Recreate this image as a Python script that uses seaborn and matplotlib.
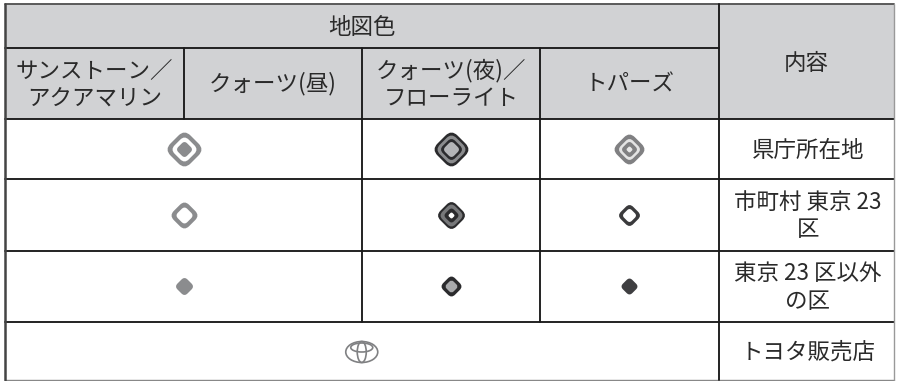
import numpy as np
import pandas as pd
import matplotlib
matplotlib.use("Agg")
import matplotlib.pyplot as plt
from matplotlib.path import Path
from matplotlib.patches import Ellipse, Rectangle
import seaborn as sns

# table text
top_header = "地図色"
right_header = "内容"
sub_headers = ["サンストーン／\nアクアマリン", "クォーツ(昼)", "クォーツ(夜)／\nフローライト", "トパーズ"]
row_labels = ["県庁所在地", "市町村 東京 23\n区", "東京 23 区以外\nの区", "トヨタ販売店"]

# table grid, pixels
col_edges = [5, 184, 362, 540, 718.5, 894]
row_edges = [4, 48, 119, 179, 250.5, 322, 380]

HEADER_BG = "#d1d2d4"
LINE = "#1a1a1a"
TEXT = "#2a2a2a"

# icon layers per row: (width px, colour), outermost first
sunstone_icons = [
    [(34, "#8b8c8e"), (24, "white"), (15, "#8b8c8e")],
    [(26, "#8b8c8e"), (16, "white")],
    [(17, "#8b8c8e")],
]
night_icons = [
    [(34, "#2b2b2d"), (28, "#8b8c8e"), (21, "#2b2b2d"), (15, "#b4b5b7")],
    [(27, "#2b2b2d"), (22, "#77787a"), (14, "#2b2b2d"), (6, "white")],
    [(20, "#2b2b2d"), (12, "#a9aaac")],
]
topaz_icons = [
    [(30, "#808082"), (21, "#e4e4e4"), (15, "#808082"), (6, "#e8e8e8")],
    [(21, "#3a3a3c"), (13, "white")],
    [(16, "#3f3f41")],
]

CORNER = 0.3


def rounded_diamond(r=1.0, c=CORNER):
    # diamond with softened corners
    pts = [(r, 0), (0, r), (-r, 0), (0, -r)]
    verts, codes = [], []
    for i, p in enumerate(pts):
        p = np.array(p)
        prev = np.array(pts[i - 1])
        nxt = np.array(pts[(i + 1) % 4])
        a = p + (prev - p) * c
        b = p + (nxt - p) * c
        verts += [a, p, b]
        codes += [Path.LINETO if i else Path.MOVETO, Path.CURVE3, Path.CURVE3]
    verts.append(verts[0])
    codes.append(Path.CLOSEPOLY)
    return Path(verts, codes)


sns.set_theme(style="white")
plt.rcParams["font.family"] = ["Noto Sans CJK JP", "DejaVu Sans"]

fig = plt.figure(figsize=(8.97, 3.81), dpi=100)
ax = fig.add_axes([0, 0, 1, 1])

# header shading
ax.add_patch(Rectangle((col_edges[0], row_edges[0]), col_edges[-1] - col_edges[0],
                       row_edges[2] - row_edges[0], color=HEADER_BG, lw=0))

# grid lines
lw = 1.35
ax.plot([col_edges[0], col_edges[-1]], [row_edges[0]] * 2, color="#555555", lw=lw)
ax.plot([col_edges[0], col_edges[4]], [row_edges[1]] * 2, color=LINE, lw=lw)
for y in row_edges[2:6]:
    ax.plot([col_edges[0], col_edges[-1]], [y, y], color=LINE, lw=lw)
ax.plot([col_edges[0], col_edges[-1]], [row_edges[6]] * 2, color="#888888", lw=1.0)
ax.plot([col_edges[1]] * 2, [row_edges[1], row_edges[2]], color=LINE, lw=lw)
ax.plot([col_edges[2]] * 2, [row_edges[1], row_edges[5]], color=LINE, lw=lw)
ax.plot([col_edges[3]] * 2, [row_edges[1], row_edges[5]], color=LINE, lw=lw)
ax.plot([col_edges[4]] * 2, [row_edges[0], row_edges[6]], color=LINE, lw=lw)
ax.plot([col_edges[0]] * 2, [row_edges[0], row_edges[6]], color="#444444", lw=1.8)
ax.plot([col_edges[5]] * 2, [row_edges[0], row_edges[6]], color="#999999", lw=1.0)

# header text
fs = 16.2
ax.text((col_edges[0] + col_edges[4]) / 2, 27.5, top_header, ha="center", va="center", fontsize=fs, color=TEXT)
ax.text((col_edges[4] + col_edges[5]) / 2, 63, right_header, ha="center", va="center", fontsize=fs, color=TEXT)
for i, label in enumerate(sub_headers):
    ax.text((col_edges[i] + col_edges[i + 1]) / 2, 84, label, ha="center", va="center",
            fontsize=fs, color=TEXT, linespacing=1.25)

# right column text
for i, label in enumerate(row_labels):
    ax.text((col_edges[4] + col_edges[5]) / 2 + 1.5, (row_edges[i + 2] + row_edges[i + 3]) / 2 + 1, label,
            ha="center", va="center", fontsize=fs, color=TEXT, linespacing=1.25)

# icons, widths corrected for the tips lost to rounding
row_y = [(row_edges[i] + row_edges[i + 1]) / 2 for i in range(2, 5)]
icon_x = [(col_edges[0] + col_edges[2]) / 2, (col_edges[2] + col_edges[3]) / 2 - 0.5, (col_edges[3] + col_edges[4]) / 2]
marker = rounded_diamond()
scale = 0.72 / (1 - CORNER / 2)
for x, icons in zip(icon_x, [sunstone_icons, night_icons, topaz_icons]):
    for y, layers in zip(row_y, icons):
        for width, colour in layers:
            df = pd.DataFrame({"x": [x], "y": [y]})
            sns.scatterplot(data=df, x="x", y="y", marker=marker, s=(width * scale) ** 2,
                            color=colour, linewidth=0, ax=ax, legend=False, zorder=3)

# dealer logo
lx, ly = (col_edges[0] + col_edges[4]) / 2, 352
for w, h, dy in [(32, 21, 0), (9, 21, 0), (22, 9, -4.5)]:
    ax.add_patch(Ellipse((lx, ly + dy), w, h, fill=False, ec="#808183", lw=1.2, zorder=3))

ax.set_xlim(0, 897)
ax.set_ylim(381, 0)
ax.axis("off")
fig.savefig("out.png", dpi=100)
